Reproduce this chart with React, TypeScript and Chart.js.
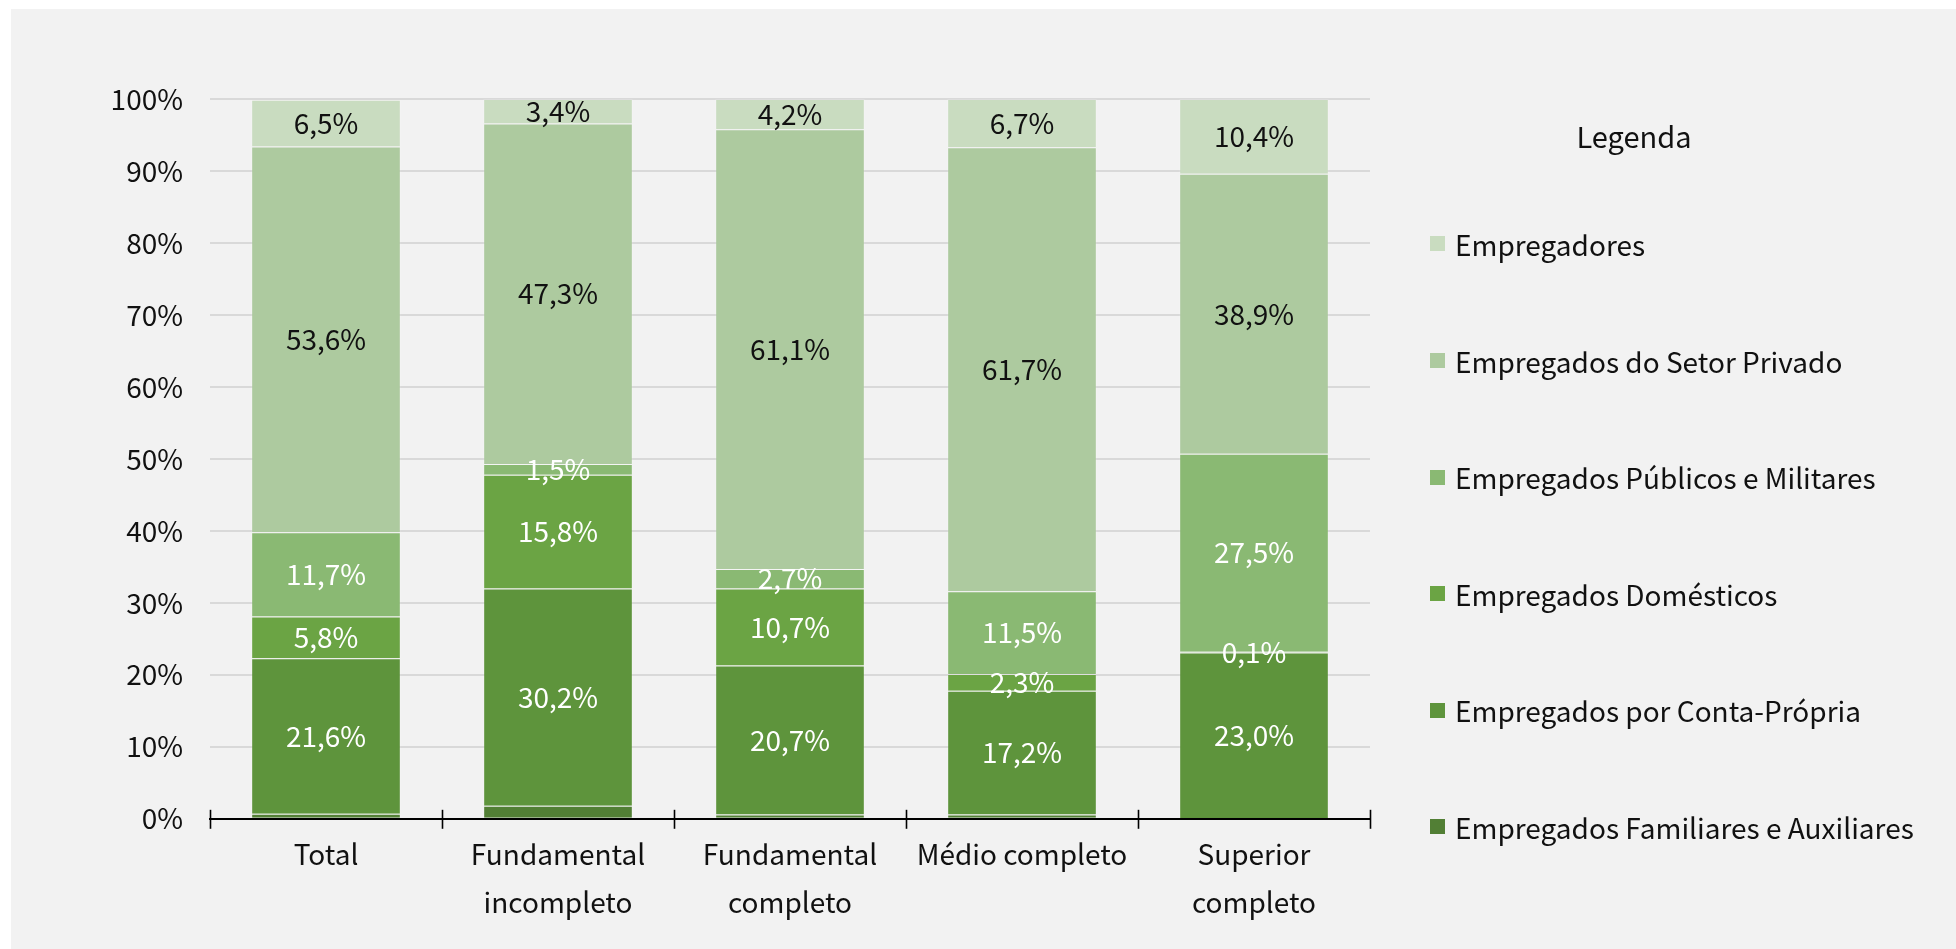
import React, { useEffect, useRef } from "react";
import { Chart, registerables } from "chart.js";

Chart.register(...registerables);

const categories: string[][] = [
  ["Total"],
  ["Fundamental", "incompleto"],
  ["Fundamental", "completo"],
  ["Médio completo"],
  ["Superior", "completo"],
];

const familiares = [0.7, 1.8, 0.6, 0.6, 0.1];
const contaPropria = [21.6, 30.2, 20.7, 17.2, 23.0];
const domesticos = [5.8, 15.8, 10.7, 2.3, 0.1];
const publicos = [11.7, 1.5, 2.7, 11.5, 27.5];
const privado = [53.6, 47.3, 61.1, 61.7, 38.9];
const empregadores = [6.5, 3.4, 4.2, 6.7, 10.4];

const seriesNames = [
  "Empregados Familiares e Auxiliares",
  "Empregados por Conta-Própria",
  "Empregados Domésticos",
  "Empregados Públicos e Militares",
  "Empregados do Setor Privado",
  "Empregadores",
];
const seriesValues = [familiares, contaPropria, domesticos, publicos, privado, empregadores];
const seriesColors = ["#527f35", "#5e943c", "#6ba444", "#8ab973", "#adca9f", "#c9dcc0"];
const labelColors = [null, "#ffffff", "#ffffff", "#ffffff", "#111111", "#111111"];

const yTicks = [0, 10, 20, 30, 40, 50, 60, 70, 80, 90, 100];

const FONT = "'Noto Sans CJK JP', 'Noto Sans', sans-serif";

const fmt = (v: number) => v.toFixed(1).replace(".", ",") + "%";

const dataLabelPlugin = {
  id: "dataLabels",
  afterDatasetsDraw(chart: any) {
    const ctx = chart.ctx;
    ctx.save();
    ctx.font = `28px ${FONT}`;
    ctx.textAlign = "center";
    ctx.textBaseline = "middle";
    chart.data.datasets.forEach((ds: any, di: number) => {
      const color = labelColors[di];
      if (!color) return;
      const meta = chart.getDatasetMeta(di);
      meta.data.forEach((el: any, i: number) => {
        const v = ds.data[i];
        const y = (el.y + el.base) / 2;
        ctx.fillStyle = color;
        ctx.fillText(fmt(v), el.x, y);
      });
    });
    ctx.restore();
  },
};

const tickMarkPlugin = {
  id: "tickMarks",
  afterDraw(chart: any) {
    const xs = chart.scales.x;
    const ctx = chart.ctx;
    const n = chart.data.labels.length;
    const half = (xs.getPixelForValue(1) - xs.getPixelForValue(0)) / 2;
    const y = xs.top;
    ctx.save();
    ctx.strokeStyle = "#000";
    ctx.lineWidth = 1.6;
    for (let i = 0; i <= n; i++) {
      const x = Math.round(xs.getPixelForValue(0) - half + i * half * 2) + 0.5;
      ctx.beginPath();
      ctx.moveTo(x, y - 9);
      ctx.lineTo(x, y + 10);
      ctx.stroke();
    }
    ctx.restore();
  },
};

function ChartView() {
  const ref = useRef<HTMLCanvasElement | null>(null);
  useEffect(() => {
    if (!ref.current) return;
    const chart = new Chart(ref.current, {
      type: "bar",
      data: {
        labels: categories as any,
        datasets: seriesValues.map((vals, i) => ({
          label: seriesNames[i],
          data: vals,
          backgroundColor: seriesColors[i],
          borderColor: "rgba(255,255,255,0.15)",
          borderWidth: 1,
          categoryPercentage: 1,
          barPercentage: 0.645,
        })),
      },
      options: {
        animation: false,
        responsive: true,
        maintainAspectRatio: false,
        layout: { padding: { top: 90, right: 586, bottom: 11, left: 0 } },
        plugins: {
          legend: { display: false },
          tooltip: { enabled: false },
        },
        scales: {
          x: {
            stacked: true,
            grid: { display: false, drawTicks: false },
            border: { display: true, color: "#000", width: 2, z: 1 },
            ticks: {
              color: "#111",
              padding: 12,
              font: { family: FONT, size: 28, lineHeight: 1.7 },
              maxRotation: 0,
              autoSkip: false,
            },
          },
          y: {
            stacked: true,
            min: 0,
            max: 100,
            afterBuildTicks(scale: any) {
              scale.ticks = yTicks.map((v) => ({ value: v }));
            },
            afterFit(scale: any) {
              scale.width = 199;
            },
            grid: { color: "#d9d9d9", lineWidth: 2, drawTicks: false },
            border: { display: false },
            ticks: {
              color: "#111",
              padding: 27,
              font: { family: FONT, size: 28 },
              callback: (v: any) => `${v}%`,
            },
          },
        },
      },
      plugins: [dataLabelPlugin, tickMarkPlugin],
    });
    return () => chart.destroy();
  }, []);
  return <canvas ref={ref} />;
}

export default function App() {
  const legendOrder = [5, 4, 3, 2, 1, 0];
  return (
    <div
      style={{
        position: "fixed",
        left: 11,
        top: 9,
        right: 0,
        bottom: 0,
        background: "#f2f2f2",
        fontFamily: FONT,
        color: "#111",
      }}
    >
      <div style={{ position: "absolute", left: 0, top: 0, width: 1945, height: 940 }}>
        <ChartView />
      </div>
      <div
        style={{
          position: "absolute",
          left: 1523,
          top: 106,
          width: 200,
          textAlign: "center",
          fontSize: 29,
          lineHeight: "40px",
        }}
      >
        Legenda
      </div>
      <div style={{ position: "absolute", left: 1419, top: 176.7 }}>
        {legendOrder.map((i) => (
          <div
            key={i}
            style={{
              height: 116.6,
              display: "flex",
              alignItems: "center",
              whiteSpace: "nowrap",
              fontSize: 28,
            }}
          >
            <span
              style={{
                display: "inline-block",
                width: 15,
                height: 15,
                background: seriesColors[i],
                marginRight: 10,
              }}
            />
            <span>{seriesNames[i]}</span>
          </div>
        ))}
      </div>
    </div>
  );
}
